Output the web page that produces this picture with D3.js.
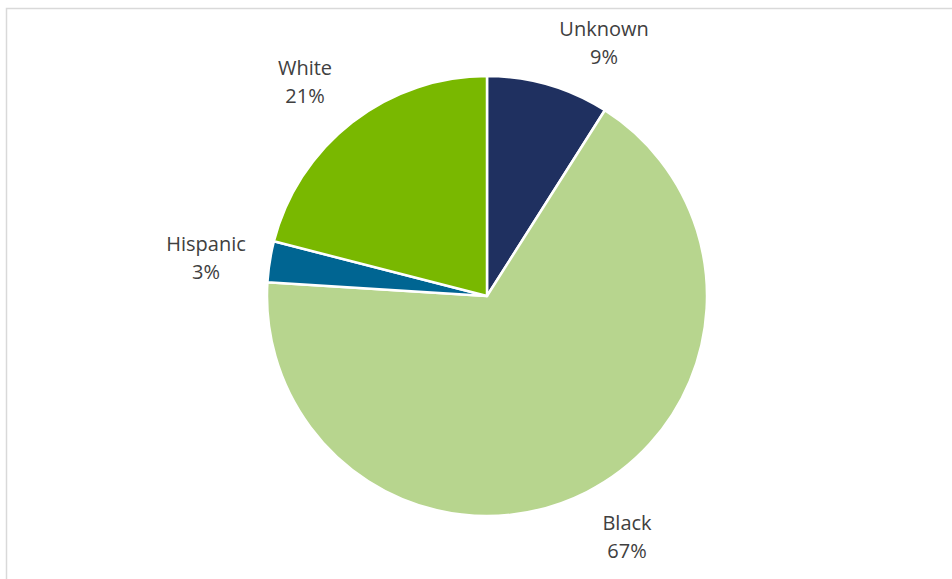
<!DOCTYPE html>
<html>
<head>
<meta charset="utf-8">
<script src="https://cdn.jsdelivr.net/npm/d3@7"></script>
<style>
  html, body { margin: 0; padding: 0; background: #ffffff; }
  svg { display: block; }
</style>
</head>
<body>
<svg id="chart" width="952" height="579"></svg>
<script>
// Race / ethnicity shares (percent), clockwise from 12 o'clock
const categories = ["Unknown", "Black", "Hispanic", "White"];
const shares = [9, 67, 3, 21];
const colors = ["#1F3060", "#B7D58E", "#006592", "#79B800"];

// Label box centres, placed just outside each slice
const labelCentres = {
  Unknown: [604, 44],
  Black: [627, 538],
  Hispanic: [206, 259],
  White: [305, 83]
};

const W = 952, H = 579;
const cx = 487, cy = 296, radius = 220;

const svg = d3.select("#chart");

// chart area frame
svg.append("rect")
  .attr("x", 6.5).attr("y", 8.5)
  .attr("width", W + 20).attr("height", H + 20)
  .attr("fill", "#ffffff")
  .attr("stroke", "#D9D9D9")
  .attr("stroke-width", 1.5);

const pie = d3.pie().sort(null).value(d => d.value);
const arc = d3.arc().innerRadius(0).outerRadius(radius);

const data = categories.map((c, i) => ({ name: c, value: shares[i], color: colors[i] }));
const arcs = pie(data);

const g = svg.append("g").attr("transform", `translate(${cx},${cy})`);

g.selectAll("path.slice")
  .data(arcs)
  .join("path")
  .attr("class", "slice")
  .attr("d", arc)
  .attr("fill", d => d.data.color)
  .attr("stroke", "#ffffff")
  .attr("stroke-width", 2.5)
  .attr("stroke-linejoin", "round");

const fmt = d3.format(".0f");
const lineGap = 28;

const labels = svg.selectAll("text.lbl")
  .data(arcs)
  .join("text")
  .attr("class", "lbl")
  .attr("text-anchor", "middle")
  .attr("font-family", "'Open Sans', sans-serif")
  .attr("font-size", 20)
  .attr("fill", "#404040")
  .attr("transform", d => {
    const [x, y] = labelCentres[d.data.name];
    return `translate(${x},${y})`;
  });

labels.append("tspan")
  .attr("x", 0).attr("y", -lineGap / 2 + 6)
  .text(d => d.data.name);
labels.append("tspan")
  .attr("x", 0).attr("y", lineGap / 2 + 6)
  .text(d => fmt(d.data.value) + "%");
</script>
</body>
</html>
